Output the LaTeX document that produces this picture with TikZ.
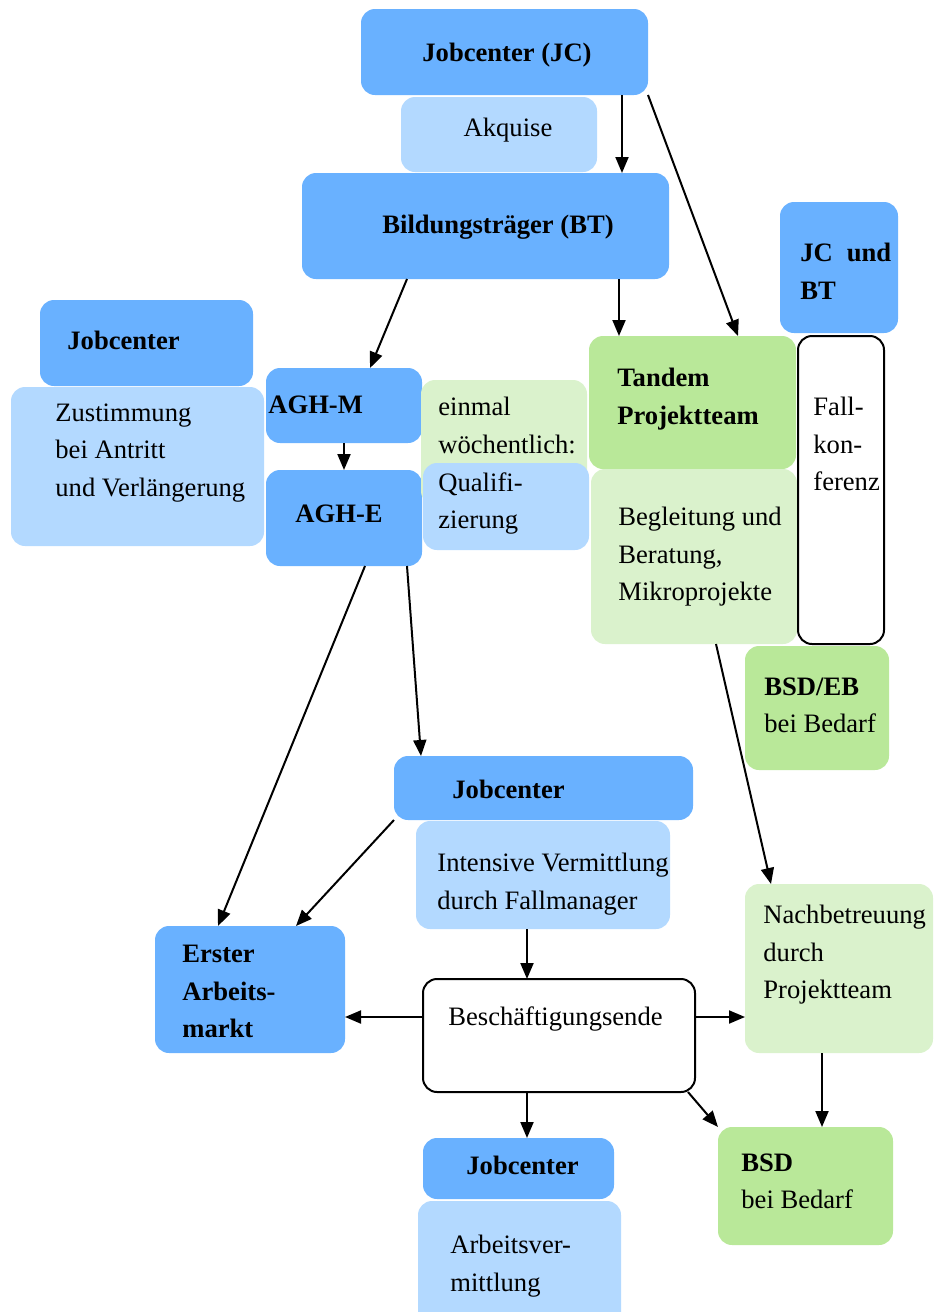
\documentclass[tikz,border=0pt]{standalone}
\usepackage{fontspec}
\setmainfont{Liberation Serif}
\usetikzlibrary{arrows.meta,fit}
\definecolor{midblue}{RGB}{105,177,255}
\definecolor{lightblue}{RGB}{179,217,255}
\definecolor{leafgreen}{RGB}{185,232,153}
\definecolor{palegreen}{RGB}{218,242,204}
\begin{document}
\begin{tikzpicture}[x=0.5pt, y=-0.5pt,
	box/.style={rounded corners=7pt, inner sep=0pt, outer sep=0pt},
	midbox/.style={box, fill=midblue},
	lightbox/.style={box, fill=lightblue},
	greenbox/.style={box, fill=leafgreen},
	palebox/.style={box, fill=palegreen},
	linebox/.style={box, draw, line width=1pt, fill=white},
	txt/.style={inner sep=0pt, align=left, font=\fontsize{13.3pt}{18.75pt}\selectfont},
	btxt/.style={txt, font=\fontsize{13.3pt}{18.75pt}\selectfont\bfseries},
	arr/.style={line width=1pt, -{Triangle[length=8pt, width=6.5pt]}}]
	\useasboundingbox (0,0) rectangle (935,1312);
	% boxes
	\node[midbox, fit={(361,9) (648,95)}] (jc) {};
	\node[lightbox, fit={(401,97) (597,172)}] (akq) {};
	\node[midbox, fit={(302,173) (669,279)}] (bt) {};
	\node[midbox, fit={(780,202) (898,333)}] (jcbt) {};
	\node[midbox, fit={(40,300) (253,386)}] (jcl) {};
	\node[lightbox, fit={(11,387) (264,546)}] (zust) {};
	\node[midbox, fit={(266,368) (422,443)}] (aghm) {};
	\node[midbox, fit={(266,470) (422,566)}] (aghe) {};
	\node[palebox, fit={(421,380) (587,505)}] (woche) {};
	\node[lightbox, fit={(423,463) (589,550)}] (quali) {};
	\node[greenbox, fit={(589,336) (796,469)}] (tandem) {};
	\node[palebox, fit={(591,469) (797,644)}] (begl) {};
	\node[linebox, fit={(798,336) (884,644)}] (fall) {};
	\node[greenbox, fit={(745,646) (889,770)}] (bsdeb) {};
	\node[midbox, fit={(394,756) (693,820)}] (jcm) {};
	\node[lightbox, fit={(416,821) (670,929)}] (inten) {};
	\node[palebox, fit={(745,884) (933,1053)}] (nach) {};
	\node[midbox, fit={(155,926) (345,1053)}] (erster) {};
	\node[linebox, fit={(423,979) (695,1092)}] (ende) {};
	\node[midbox, fit={(423,1138) (614,1199)}] (jcu) {};
	\node[lightbox, fit={(418,1201) (621,1340)}] (verm) {};
	\node[greenbox, fit={(718,1127) (893,1245)}] (bsd) {};
	% texts
	\node[btxt, anchor=base] (jc-t) at (507,61) {Jobcenter (JC)};
	\node[txt, anchor=base] (akq-t) at (508,136) {Akquise};
	\node[btxt, anchor=base] (bt-t) at (498,233) {Bildungsträger (BT)};
	\node[btxt, anchor=north west] (jcbt-t) at (800,243) {JC\hspace{7pt}und\\BT};
	\node[btxt, anchor=base west] (jcl-t) at (67,349) {Jobcenter};
	\node[txt, anchor=north west] (zust-t) at (55,403) {Zustimmung\\bei Antritt\\und Verlängerung};
	\node[btxt, anchor=base west] (aghm-t) at (268,413) {AGH-M};
	\node[btxt, anchor=base] (aghe-t) at (339,522) {AGH-E};
	\node[txt, anchor=north west] (woche-t) at (438,397) {einmal\\wöchentlich:};
	\node[txt, anchor=north west] (quali-t) at (438,472) {Qualifi-\\zierung};
	\node[btxt, anchor=north west] (tandem-t) at (617,368) {Tandem\\Projektteam};
	\node[txt, anchor=north west] (begl-t) at (618,507) {Begleitung und\\Beratung,\\Mikroprojekte};
	\node[txt, anchor=north west] (fall-t) at (813,397) {Fall-\\kon-\\ferenz};
	\node[btxt, anchor=north west] (bsdeb-t) at (764,677) {BSD/EB\\\mdseries bei Bedarf};
	\node[btxt, anchor=base west] (jcm-t) at (452,798) {Jobcenter};
	\node[txt, anchor=north west] (inten-t) at (437,853) {Intensive Vermittlung\\durch Fallmanager};
	\node[txt, anchor=north west] (nach-t) at (763,905) {Nachbetreuung\\durch\\Projektteam};
	\node[btxt, anchor=north west] (erster-t) at (182,945) {Erster\\Arbeits-\\markt};
	\node[txt, anchor=base west] (ende-t) at (448,1025) {Beschäftigungsende};
	\node[btxt, anchor=base west] (jcu-t) at (466,1174) {Jobcenter};
	\node[txt, anchor=north west] (verm-t) at (450,1235) {Arbeitsver-\\mittlung};
	\node[btxt, anchor=north west] (bsd-t) at (741,1153) {BSD\\\mdseries bei Bedarf};
	% arrows
	\draw[arr] ([xshift=58.75pt]jc.south) -- ([xshift=68.25pt]bt.north);
	\draw[arr] (jc.south east) -- ([xshift=22.75pt]tandem.north);
	\draw[arr] ([xshift=-39.25pt]bt.south) -- ([xshift=13pt]aghm.north);
	\draw[arr] ([xshift=66.75pt]bt.south) -- ([xshift=-36.75pt]tandem.north);
	\draw[arr] (aghm.south) -- (aghe.north);
	\draw[arr] ([xshift=10.5pt]aghe.south) -- ([xshift=-16pt]erster.north);
	\draw[arr] ([xshift=31.5pt]aghe.south) -- ([xshift=-61.25pt]jcm.north);
	\draw[arr] (jcm.south west) -- ([xshift=23pt]erster.north);
	\draw[arr] ([xshift=-8pt]inten.south) -- ([xshift=-16pt]ende.north);
	\draw[arr] ([xshift=11pt]begl.south) -- ([xshift=-34pt]nach.north);
	\draw[arr] ([yshift=9.25pt]ende.west) -- ([yshift=-13.75pt]erster.east);
	\draw[arr] ([yshift=9.25pt]ende.east) -- ([yshift=-24.25pt]nach.west);
	\draw[arr] ([xshift=-16pt]ende.south) -- ([xshift=4.25pt]jcu.north);
	\draw[arr] ([xshift=-3.5pt]ende.south east) -- (bsd.north west);
	\draw[arr] ([xshift=-8.5pt]nach.south) -- ([xshift=8.25pt]bsd.north);
\end{tikzpicture}
\end{document}
